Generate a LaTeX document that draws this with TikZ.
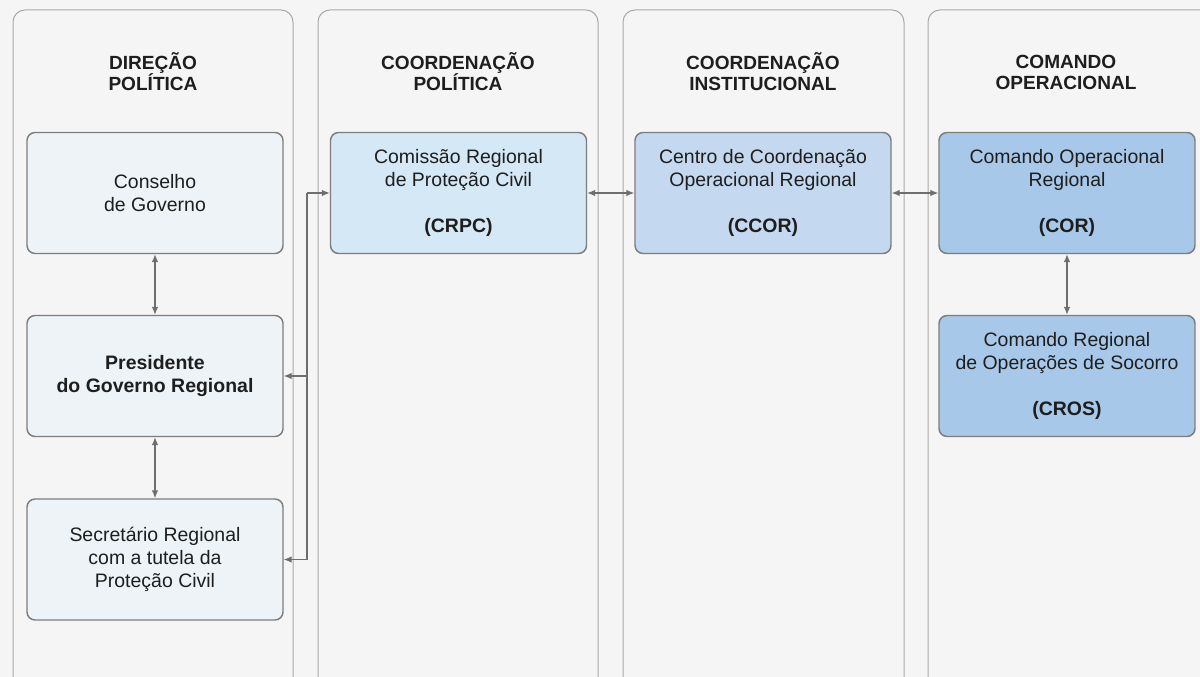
\documentclass[tikz,border=0pt]{standalone}
\usepackage{fontspec}
\setmainfont{Liberation Sans}
\usetikzlibrary{arrows.meta}

\definecolor{bgcol}{HTML}{F5F5F5}
\definecolor{colline}{HTML}{A9A9A9}
\definecolor{boxline}{HTML}{7D7D7D}
\definecolor{arrcol}{HTML}{6E6E6E}
\definecolor{txtcol}{HTML}{1E1E1E}
\definecolor{polfill}{HTML}{EDF3F6}
\definecolor{crpcfill}{HTML}{D4E8F6}
\definecolor{ccorfill}{HTML}{C4D9EF}
\definecolor{corfill}{HTML}{A8C8E9}

\tikzset{
	column/.style={draw=colline, line width=0.75pt, fill=bgcol, rounded corners=9pt},
	coltitle/.style={text=txtcol, align=center, font=\fontsize{14.3}{15.8}\selectfont\bfseries},
	unit/.style={draw=boxline, line width=1.1pt, rounded corners=6pt, minimum width=192pt,
		minimum height=90.75pt, align=center, text=txtcol, font=\fontsize{14.6}{17}\selectfont},
	conn/.style={draw=arrcol, line width=0.9pt, -{Latex[length=6pt,width=5pt]}},
	dconn/.style={draw=arrcol, line width=0.9pt, {Latex[length=6pt,width=5pt]}-{Latex[length=6pt,width=5pt]}}
}

\begin{document}
\begin{tikzpicture}[x=0.75pt,y=-0.75pt]
			%%%%% START %%%%%
			\useasboundingbox (0,0) rectangle (1200,677);
			\clip (0,0) rectangle (1200,677);
			\fill[bgcol] (0,0) rectangle (1200,677);
			
			% columns
			\draw[column] (13,10) rectangle (293,690);
			\draw[column] (318,10) rectangle (598,690);
			\draw[column] (623,10) rectangle (904,690);
			\draw[column] (928,10) rectangle (1230,690);
			
			\node[coltitle] (t1) at (153,72) {DIREÇÃO\\POLÍTICA};
			\node[coltitle] (t2) at (458,72) {COORDENAÇÃO\\POLÍTICA};
			\node[coltitle] (t3) at (763,72) {COORDENAÇÃO\\INSTITUCIONAL};
			\node[coltitle] (t4) at (1066,72) {COMANDO\\OPERACIONAL};
			
			% direcao politica
			\node[unit, fill=polfill] (cons) at (155,193) {Conselho\\de Governo};
			\node[unit, fill=polfill] (pres) at (155,376) {\bfseries Presidente\\\bfseries do Governo Regional};
			\node[unit, fill=polfill] (sec) at (155,559.5) {Secretário Regional\\com a tutela da\\Proteção Civil};
			
			% coordenacao e comando
			\node[unit, fill=crpcfill] (crpc) at (458.5,193) {Comissão Regional\\de Proteção Civil\\[18pt]\textbf{(CRPC)}};
			\node[unit, fill=ccorfill] (ccor) at (763,193) {Centro de Coordenação\\Operacional Regional\\[18pt]\textbf{(CCOR)}};
			\node[unit, fill=corfill] (cor) at (1067,193) {Comando Operacional\\Regional\\[18pt]\textbf{(COR)}};
			\node[unit, fill=corfill] (cros) at (1067,376) {Comando Regional\\de Operações de Socorro\\[18pt]\textbf{(CROS)}};
			
			% ligacoes
			\draw[dconn] (cons) -- (pres);
			\draw[dconn] (pres) -- (sec);
			\draw[dconn] (cor) -- (cros);
			\draw[dconn] (crpc) -- (ccor);
			\draw[dconn] (ccor) -- (cor);
			
			\coordinate (bus) at (307,0);
			\draw[conn] (bus |- crpc.west) -- (crpc.west);
			\draw[conn] (bus |- crpc.west) |- (sec.east);
			\draw[conn] (bus |- pres.east) -- (pres.east);
			%%%%% END %%%%%
\end{tikzpicture}
\end{document}
